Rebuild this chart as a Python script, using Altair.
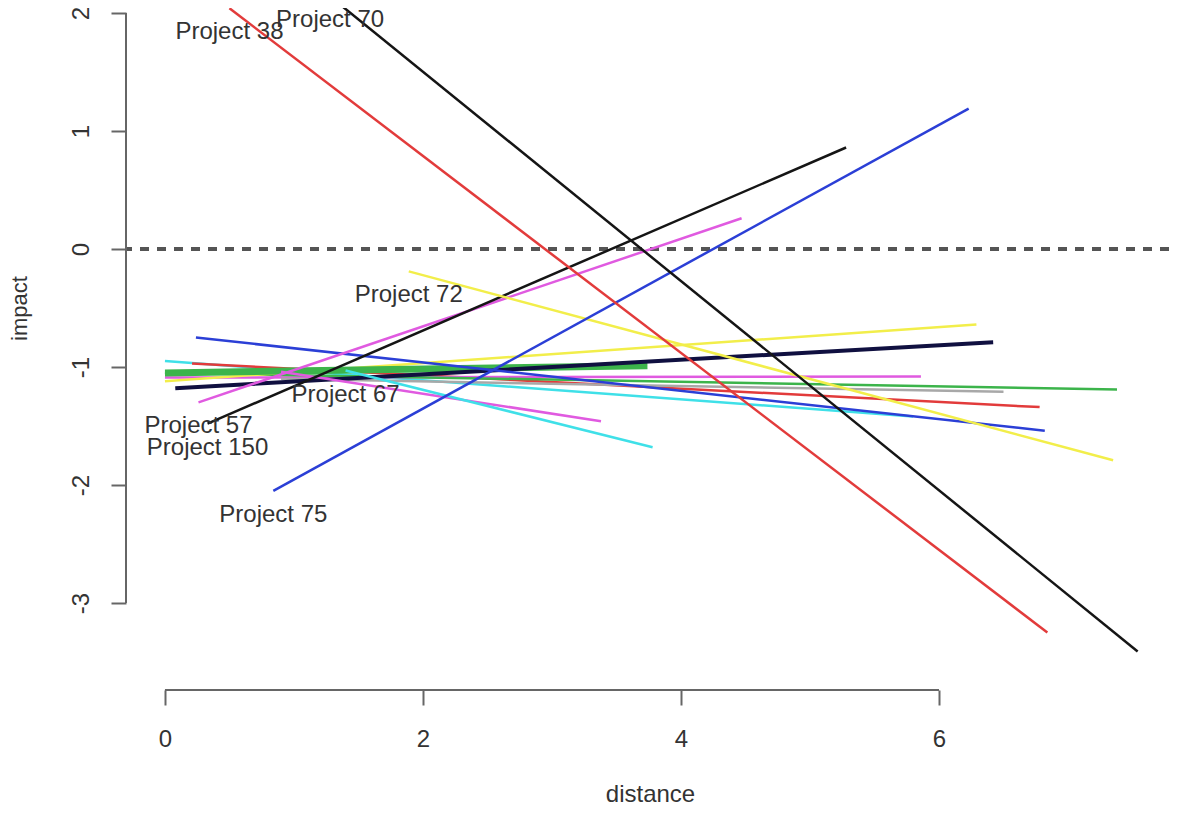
import altair as alt
import pandas as pd

# ---- data (start / end of each project's fitted line) ----
LABELS = ["", "", "", "", "", "", "", "", "", "",
          "Project 67", "Project 57", "Project 150", "Project 72",
          "Project 75", "Project 38", "Project 70"]
X0 = [0.00, 0.21, 0.00, 0.90, 0.00, 0.00, 0.00, 0.08, 0.24, 0.90,
      1.40, 0.26, 0.33, 1.89, 0.84, 0.50, 1.28]
Y0 = [-0.95, -0.97, -1.09, -1.10, -1.05, -1.12, -1.05, -1.18, -0.75, -1.04,
      -1.03, -1.30, -1.48, -0.19, -2.05, 2.04, 2.14]
X1 = [5.80, 6.78, 5.86, 6.50, 7.38, 6.29, 3.74, 6.42, 6.82, 3.38,
      3.78, 4.47, 5.28, 7.35, 6.23, 6.84, 7.54]
Y1 = [-1.42, -1.34, -1.08, -1.21, -1.19, -0.64, -0.99, -0.79, -1.54, -1.46,
      -1.68, 0.26, 0.86, -1.79, 1.19, -3.25, -3.41]
COLORS = ["#3fe0e8", "#e23b3b", "#e05ae0", "#a8a8a8", "#3cb44b", "#f2ee4a",
          "#3cb44b", "#101040", "#2b3fd6", "#e05ae0",
          "#3fe0e8", "#e05ae0", "#151515", "#f2ee4a", "#2b3fd6", "#e23b3b", "#151515"]
WIDTHS = [2.5, 2.5, 2.5, 2.5, 2.5, 2.5, 7, 4, 2.5, 2.5,
          2.5, 2.5, 2.5, 2.5, 2.5, 2.5, 2.5]

X_TICKS = [0, 2, 4, 6]
Y_TICKS = [-3, -2, -1, 0, 1, 2]
X_DOMAIN = [-0.302, 7.783]
Y_DOMAIN = [-3.737, 2.042]

FONT = "Liberation Sans"
AXIS_GRAY = "#666666"
TEXT_GRAY = "#333333"

df = pd.DataFrame({
    "order": list(range(len(LABELS))),
    "label": LABELS, "x0": X0, "y0": Y0, "x1": X1, "y1": Y1,
    "color": COLORS, "width": WIDTHS,
})

xscale = alt.Scale(domain=X_DOMAIN, nice=False, zero=False)
yscale = alt.Scale(domain=Y_DOMAIN, nice=False, zero=False)

xaxis = alt.Axis(values=X_TICKS, domain=False, grid=False, tickSize=15, tickWidth=2,
                 tickColor=AXIS_GRAY, labelFontSize=24, labelFont=FONT, labelColor=TEXT_GRAY,
                 labelBaseline="alphabetic", labelPadding=41, labelFlush=False,
                 labelOverlap=False, labelAlign="center", labelExpr="datum.value + ''",
                 title="distance", titleFont=FONT, titleFontSize=24, titleFontWeight="normal",
                 titleColor=TEXT_GRAY, titleX=524, titleY=111, titleAlign="center",
                 titleBaseline="alphabetic", titleAnchor="start")
yaxis = alt.Axis(values=Y_TICKS, domain=False, grid=False, tickSize=15, tickWidth=2,
                 tickColor=AXIS_GRAY, labelFontSize=24, labelFont=FONT, labelColor=TEXT_GRAY,
                 labelAngle=270, labelAlign="center", labelBaseline="alphabetic",
                 labelPadding=23, labelFlush=False, labelOverlap=False,
                 labelExpr="datum.value + ''",
                 title="impact", titleFont=FONT, titleFontSize=22, titleFontWeight="normal",
                 titleColor=TEXT_GRAY, titleAngle=270, titleX=-107, titleY=300,
                 titleAlign="center", titleBaseline="middle", titleAnchor="start")

base = alt.Chart(df)

segments = base.mark_rule(clip=True, strokeCap="butt").encode(
    x=alt.X("x0:Q", scale=xscale, axis=xaxis),
    y=alt.Y("y0:Q", scale=yscale, axis=yaxis),
    x2="x1:Q",
    y2="y1:Q",
    color=alt.Color("color:N", scale=None),
    size=alt.Size("width:Q", scale=None),
    order="order:Q",
)

zero_line = base.mark_rule(color="#555555", strokeWidth=2.5, strokeDash=[9, 8]).encode(
    y=alt.datum(0)
)

labels = base.transform_filter("datum.label != ''").mark_text(
    dy=24, fontSize=24, font=FONT, color=TEXT_GRAY, align="center", baseline="middle"
).encode(x="x0:Q", y="y0:Q", text="label:N")

y_axis_line = alt.Chart(pd.DataFrame({"lo": [min(Y_TICKS)], "hi": [max(Y_TICKS)]})).mark_rule(
    color=AXIS_GRAY, strokeWidth=2
).encode(x=alt.value(0), y="lo:Q", y2="hi:Q")

x_axis_line = alt.Chart(pd.DataFrame({"lo": [min(X_TICKS)], "hi": [max(X_TICKS)]})).mark_rule(
    color=AXIS_GRAY, strokeWidth=2
).encode(y=alt.value(682), x="lo:Q", x2="hi:Q")

chart = alt.layer(zero_line, segments, labels, y_axis_line, x_axis_line).properties(
    width=1043, height=682,
    autosize=alt.AutoSizeParams(type="none"),
    padding={"left": 118, "top": 0, "right": 0, "bottom": 116},
    background="white",
).configure_view(stroke=None)

chart.save("out.html", embed_options={"renderer": "svg", "actions": False})
